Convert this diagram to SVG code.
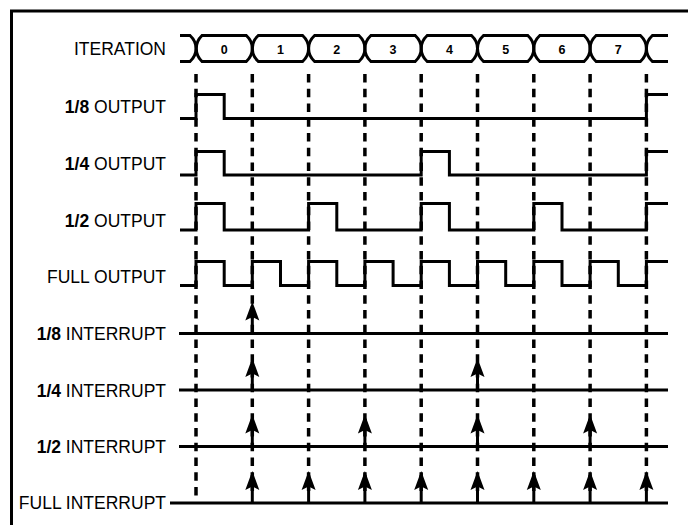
<svg xmlns="http://www.w3.org/2000/svg" width="688" height="525" viewBox="0 0 688 525">
<style>
.lbl{font-family:"Liberation Sans",Arial,sans-serif;font-size:17.5px;fill:#000;text-anchor:end}
.b{font-weight:bold}
.num{font-family:"Liberation Sans",Arial,sans-serif;font-size:12.5px;font-weight:bold;fill:#000;text-anchor:middle}
.sig{fill:none;stroke:#000;stroke-width:3}
.dash{fill:none;stroke:#000;stroke-width:3.5;stroke-dasharray:8.5 6.25}
.frame{fill:none;stroke:#000;stroke-width:3}
</style>
<defs>
<g id="ah"><polygon points="0,0 7,19 0,15.5 -7,19" fill="#000"/></g>
</defs>
<rect width="688" height="525" fill="#fff"/>
<path class="frame" d="M11.5,527 V11 H690"/>

<g id="connectors">
<g id="gridlines">
<line class="dash" x1="196" y1="74" x2="196" y2="495.5"/>
<line class="dash" x1="252.3" y1="74" x2="252.3" y2="491"/>
<line class="dash" x1="308.6" y1="74" x2="308.6" y2="491"/>
<line class="dash" x1="364.9" y1="74" x2="364.9" y2="491"/>
<line class="dash" x1="421.2" y1="74" x2="421.2" y2="491"/>
<line class="dash" x1="477.5" y1="74" x2="477.5" y2="491"/>
<line class="dash" x1="533.8" y1="74" x2="533.8" y2="491"/>
<line class="dash" x1="590.1" y1="74" x2="590.1" y2="491"/>
<line class="dash" x1="646.4" y1="74" x2="646.4" y2="491"/>
</g>
</g>

<g id="iteration">
<text class="lbl" x="166" y="55">ITERATION</text>
<path class="sig" d="M180,35.5 H190 Q196,41 196,48.5 Q196,56 190,61.5 H180"/>
<path class="sig" d="M202,35.5 Q196.3,41 196.3,48.5 Q196.3,56 202,61.5 H246.3 Q252.3,56 252.3,48.5 Q252.3,41 246.3,35.5 Z"/>
<path class="sig" d="M258.3,35.5 Q252.3,41 252.3,48.5 Q252.3,56 258.3,61.5 H302.6 Q308.6,56 308.6,48.5 Q308.6,41 302.6,35.5 Z"/>
<path class="sig" d="M314.6,35.5 Q308.6,41 308.6,48.5 Q308.6,56 314.6,61.5 H358.9 Q364.9,56 364.9,48.5 Q364.9,41 358.9,35.5 Z"/>
<path class="sig" d="M370.9,35.5 Q364.9,41 364.9,48.5 Q364.9,56 370.9,61.5 H415.2 Q421.2,56 421.2,48.5 Q421.2,41 415.2,35.5 Z"/>
<path class="sig" d="M427.2,35.5 Q421.2,41 421.2,48.5 Q421.2,56 427.2,61.5 H471.5 Q477.5,56 477.5,48.5 Q477.5,41 471.5,35.5 Z"/>
<path class="sig" d="M483.5,35.5 Q477.5,41 477.5,48.5 Q477.5,56 483.5,61.5 H527.8 Q533.8,56 533.8,48.5 Q533.8,41 527.8,35.5 Z"/>
<path class="sig" d="M539.8,35.5 Q533.8,41 533.8,48.5 Q533.8,56 539.8,61.5 H584.1 Q590.1,56 590.1,48.5 Q590.1,41 584.1,35.5 Z"/>
<path class="sig" d="M596.1,35.5 Q590.1,41 590.1,48.5 Q590.1,56 596.1,61.5 H640.4 Q646.4,56 646.4,48.5 Q646.4,41 640.4,35.5 Z"/>
<path class="sig" d="M668,35.5 H652.4 Q646.4,41 646.4,48.5 Q646.4,56 652.4,61.5 H668"/>
<text class="num" x="224.2" y="53.5">0</text>
<text class="num" x="280.5" y="53.5">1</text>
<text class="num" x="336.8" y="53.5">2</text>
<text class="num" x="393.1" y="53.5">3</text>
<text class="num" x="449.4" y="53.5">4</text>
<text class="num" x="505.7" y="53.5">5</text>
<text class="num" x="562" y="53.5">6</text>
<text class="num" x="618.3" y="53.5">7</text>
</g>

<g id="out8">
<text class="lbl" x="166" y="112.7"><tspan class="b">1/8</tspan> OUTPUT</text>
<path class="sig" d="M180,118.5 H196 V94.5 H224.2 V118.5 H646.4 V94.5 H668"/>
</g>
<g id="out4">
<text class="lbl" x="166" y="170"><tspan class="b">1/4</tspan> OUTPUT</text>
<path class="sig" d="M180,175 H196 V151.5 H224.2 V175 H421.2 V151.5 H449.4 V175 H646.4 V151.5 H668"/>
</g>
<g id="out2">
<text class="lbl" x="166" y="227"><tspan class="b">1/2</tspan> OUTPUT</text>
<path class="sig" d="M180,230 H196 V203.5 H224.2 V230 H308.6 V203.5 H336.8 V230 H421.2 V203.5 H449.4 V230 H533.8 V203.5 H562 V230 H646.4 V203.5 H668"/>
</g>
<g id="outfull">
<text class="lbl" x="166" y="283.3">FULL OUTPUT</text>
<path class="sig" d="M180,285.5 H196 V261.5 H224.2 V285.5 H252.3 V261.5 H280.5 V285.5 H308.6 V261.5 H336.8 V285.5 H364.9 V261.5 H393.1 V285.5 H421.2 V261.5 H449.4 V285.5 H477.5 V261.5 H505.7 V285.5 H533.8 V261.5 H562 V285.5 H590.1 V261.5 H618.3 V285.5 H646.4 V261.5 H668"/>
</g>

<g id="int8">
<text class="lbl" x="166" y="340"><tspan class="b">1/8</tspan> INTERRUPT</text>
<line class="sig" x1="179" y1="333.5" x2="668" y2="333.5"/>
<line class="sig" x1="252.3" y1="333.5" x2="252.3" y2="306"/>
<use href="#ah" x="252.3" y="301.5"/>
</g>
<g id="int4">
<text class="lbl" x="166" y="396.7"><tspan class="b">1/4</tspan> INTERRUPT</text>
<line class="sig" x1="179" y1="390" x2="668" y2="390"/>
<line class="sig" x1="252.3" y1="390" x2="252.3" y2="362"/>
<use href="#ah" x="252.3" y="358"/>
<line class="sig" x1="477.5" y1="390" x2="477.5" y2="362"/>
<use href="#ah" x="477.5" y="358"/>
</g>
<g id="int2">
<text class="lbl" x="166" y="453"><tspan class="b">1/2</tspan> INTERRUPT</text>
<line class="sig" x1="179" y1="446.5" x2="668" y2="446.5"/>
<line class="sig" x1="252.3" y1="446.5" x2="252.3" y2="419"/>
<use href="#ah" x="252.3" y="414.5"/>
<line class="sig" x1="364.9" y1="446.5" x2="364.9" y2="419"/>
<use href="#ah" x="364.9" y="414.5"/>
<line class="sig" x1="477.5" y1="446.5" x2="477.5" y2="419"/>
<use href="#ah" x="477.5" y="414.5"/>
<line class="sig" x1="590.1" y1="446.5" x2="590.1" y2="419"/>
<use href="#ah" x="590.1" y="414.5"/>
</g>
<g id="intfull">
<text class="lbl" x="166" y="509.3">FULL INTERRUPT</text>
<line class="sig" x1="170" y1="503" x2="668" y2="503"/>
<line class="sig" x1="252.3" y1="503" x2="252.3" y2="475"/>
<use href="#ah" x="252.3" y="471"/>
<line class="sig" x1="308.6" y1="503" x2="308.6" y2="475"/>
<use href="#ah" x="308.6" y="471"/>
<line class="sig" x1="364.9" y1="503" x2="364.9" y2="475"/>
<use href="#ah" x="364.9" y="471"/>
<line class="sig" x1="421.2" y1="503" x2="421.2" y2="475"/>
<use href="#ah" x="421.2" y="471"/>
<line class="sig" x1="477.5" y1="503" x2="477.5" y2="475"/>
<use href="#ah" x="477.5" y="471"/>
<line class="sig" x1="533.8" y1="503" x2="533.8" y2="475"/>
<use href="#ah" x="533.8" y="471"/>
<line class="sig" x1="590.1" y1="503" x2="590.1" y2="475"/>
<use href="#ah" x="590.1" y="471"/>
<line class="sig" x1="646.4" y1="503" x2="646.4" y2="475"/>
<use href="#ah" x="646.4" y="471"/>
</g>
</svg>
